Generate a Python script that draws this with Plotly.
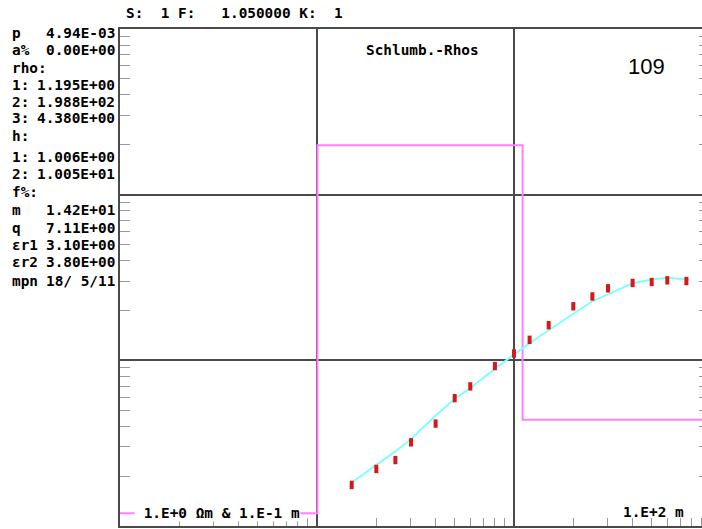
import plotly.graph_objects as go

# ---------------- data ----------------
# measured apparent resistivities (Schlumberger AB/2 in m, rho_a in Ohm m)
ab2_obs = [1.5, 2.0, 2.5, 3.0, 4.0, 5.0, 6.0, 8.0, 10, 12, 15, 20, 25, 30, 40, 50, 60, 75]
rho_obs = [1.77, 2.21, 2.50, 3.20, 4.15, 5.91, 6.96, 9.23, 11.0, 13.3, 16.3, 21.2, 24.3, 27.2, 29.3, 29.7, 30.4, 30.1]

# model response curve
ab2_fit = [1.5, 2.0, 2.5, 3.0, 4.0, 5.0, 6.0, 8.0, 10, 12, 15, 20, 25, 30, 40, 50, 60, 75, 78]
rho_fit = [1.83, 2.34, 2.82, 3.35, 4.64, 5.86, 6.79, 8.91, 10.9, 12.7, 15.2, 19.2, 22.8, 25.0, 29.2, 30.8, 31.5, 30.8, 30.6]

# layered model
layer_rho = [1.195, 198.8, 4.380]
layer_h = [1.006, 10.05]

# side panel text
panel_rows = [
    ("p", "4.94E-03"),
    ("a%", "0.00E+00"),
    ("rho:", ""),
    ("1:", "1.195E+00"),
    ("2:", "1.988E+02"),
    ("3:", "4.380E+00"),
    ("h:", ""),
    ("1:", "1.006E+00"),
    ("2:", "1.005E+01"),
    ("f%:", ""),
    ("m", "1.42E+01"),
    ("q", "7.11E+00"),
    ("\u03b5r1", "3.10E+00"),
    ("\u03b5r2", "3.80E+00"),
    ("mpn", "18/\u00a05/11"),
]
panel_y = [33, 50, 68, 85, 102, 118, 136, 157, 174, 192, 210, 228, 245, 262, 281]

header_text = "S:\u00a0\u00a01\u00a0F:\u00a0\u00a0\u00a01.050000\u00a0K:\u00a0\u00a01"
title_text = "Schlumb.-Rhos"
station_text = "109"
scale_text_left = "\u00a01.E+0\u00a0\u03a9m\u00a0&\u00a01.E-1\u00a0m"
scale_text_right = "1.E+2\u00a0m"

# ---------------- layout constants ----------------
W, H = 702, 529
ML, MR, MT, MB = 120, 0, 29, 3
PW, PH = W - ML - MR, H - MT - MB
XR = [-1, -1 + PW / 197.0]
YR = [0, 3]

def px(x):
    return (x - ML) / PW

def py(y):
    return (H - MB - y) / PH

MONO = "DejaVu Sans Mono"
FS = 14.4

# model step curve built from layers
depths = [layer_h[0], layer_h[0] + layer_h[1]]
model_x = [10 ** XR[0], depths[0], depths[0], depths[1], depths[1], 10 ** XR[1]]
model_y = [layer_rho[0], layer_rho[0], layer_rho[1], layer_rho[1], layer_rho[2], layer_rho[2]]

minor_x = [m * 10 ** e for e in (-1, 0, 1) for m in range(2, 10)]
minor_y = [m * 10 ** e for e in (0, 1, 2) for m in range(2, 10)]

fig = go.Figure()
fig.add_trace(go.Scatter(x=model_x, y=model_y, mode="lines",
                         line=dict(color="#ff80ff", width=2), hoverinfo="skip"))
fig.add_trace(go.Scatter(x=ab2_fit, y=rho_fit, mode="lines",
                         line=dict(color="#80ffff", width=2), hoverinfo="skip"))
fig.add_trace(go.Scatter(x=ab2_obs, y=rho_obs, mode="markers",
                         marker=dict(symbol="line-ns-open", size=6, color="#d81818",
                                     line=dict(color="#d81818", width=4))))
# invisible trace for right-side ticks
fig.add_trace(go.Scatter(x=[ab2_obs[0]], y=[rho_obs[0]], yaxis="y2", mode="markers",
                         marker=dict(opacity=0), hoverinfo="skip"))

fig.update_layout(
    width=W, height=H,
    margin=dict(l=ML, r=MR, t=MT, b=MB),
    paper_bgcolor="white", plot_bgcolor="white",
    showlegend=False,
    xaxis=dict(type="log", range=XR, tickvals=[1, 10], showticklabels=False,
               ticks="", showgrid=True, gridcolor="#4a4a4a", gridwidth=2,
               showline=True, linecolor="#4a4a4a", linewidth=2, mirror=True,
               zeroline=False,
               minor=dict(tickvals=minor_x, ticks="inside", ticklen=8,
                          tickcolor="#999999", tickwidth=1, showgrid=False)),
    yaxis=dict(type="log", range=YR, tickvals=[10, 100], showticklabels=False,
               ticks="", showgrid=True, gridcolor="#4a4a4a", gridwidth=2,
               showline=True, linecolor="#4a4a4a", linewidth=2, mirror=False,
               zeroline=False,
               minor=dict(tickvals=minor_y, ticks="inside", ticklen=10,
                          tickcolor="#999999", tickwidth=1, showgrid=False)),
    yaxis2=dict(type="log", range=YR, overlaying="y", side="right",
                tickvals=[10, 100], showticklabels=False, ticks="",
                showgrid=False, showline=False, zeroline=False,
                minor=dict(tickvals=minor_y, ticks="inside", ticklen=3,
                           tickcolor="#999999", tickwidth=1, showgrid=False)),
)

ann = []
for (lab, val), yy in zip(panel_rows, panel_y):
    ann.append(dict(x=px(10), y=py(yy), xref="paper", yref="paper", text=lab,
                    xanchor="left", yanchor="middle", showarrow=False,
                    font=dict(family=MONO, size=FS, color="black", weight="bold")))
    if val:
        ann.append(dict(x=px(117), y=py(yy), xref="paper", yref="paper", text=val,
                        xanchor="right", yanchor="middle", showarrow=False,
                        font=dict(family=MONO, size=FS, color="black", weight="bold")))

ann.append(dict(x=px(124), y=py(13), xref="paper", yref="paper", text=header_text,
                xanchor="left", yanchor="middle", showarrow=False,
                font=dict(family=MONO, size=FS, color="black", weight="bold")))
ann.append(dict(x=px(422), y=py(50), xref="paper", yref="paper", text=title_text,
                xanchor="center", yanchor="middle", showarrow=False,
                font=dict(family=MONO, size=FS, color="black", weight="bold")))
ann.append(dict(x=px(646), y=py(66), xref="paper", yref="paper", text=station_text,
                xanchor="center", yanchor="middle", showarrow=False,
                font=dict(family="Liberation Sans", size=22, color="black")))
ann.append(dict(x=px(134), y=py(513), xref="paper", yref="paper", text=scale_text_left,
                xanchor="left", yanchor="middle", showarrow=False, bgcolor="white",
                borderpad=0,
                font=dict(family=MONO, size=FS, color="black", weight="bold")))
ann.append(dict(x=px(686), y=py(512), xref="paper", yref="paper", text=scale_text_right,
                xanchor="right", yanchor="middle", showarrow=False,
                font=dict(family=MONO, size=FS, color="black", weight="bold")))
fig.update_layout(annotations=ann)

fig.write_html("out.html",
               config={"displayModeBar": False},
               post_script="document.body.style.margin='0';document.body.style.overflow='hidden';")
